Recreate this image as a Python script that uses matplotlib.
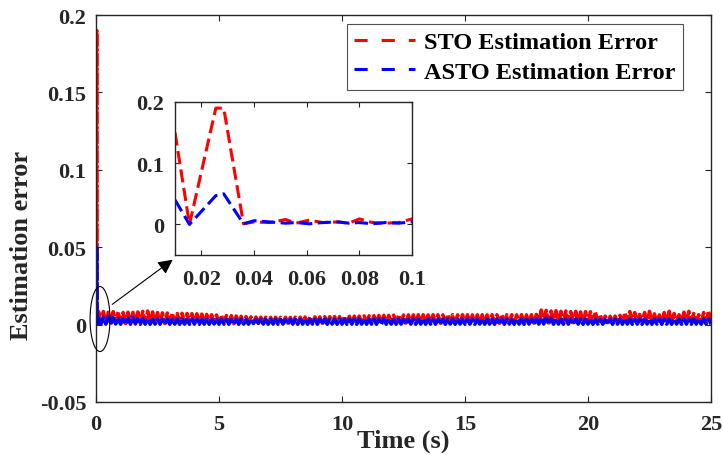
import numpy as np
import matplotlib.pyplot as plt
from matplotlib.patches import Ellipse
from matplotlib.lines import Line2D

plt.rcParams['font.family'] = ['Liberation Serif', 'DejaVu Serif']
plt.rcParams['font.weight'] = 'bold'
gris = '#262626'

# primeros 0.1 s (transitorio, lo que se ve en el zoom)
t_ini = [0.01, 0.0155, 0.0255, 0.0285, 0.036, 0.04, 0.046, 0.052, 0.056,
         0.061, 0.066, 0.072, 0.076, 0.08, 0.085, 0.09, 0.095]
sto_ini = [0.15, 0.0, 0.19, 0.19, 0.001, 0.004, 0.003, 0.008, 0.002,
           0.007, 0.003, 0.004, 0.002, 0.009, 0.003, 0.002, 0.003]
asto_ini = [0.04, 0.0, 0.047, 0.05, 0.001, 0.006, 0.004, 0.002, 0.003,
            0.001, 0.003, 0.004, 0.002, 0.003, 0.001, 0.003, 0.002]

# resto de la corrida, cada 0.1 s (una fila = 1 s)
t_run = np.round(np.arange(0.1, 25.01, 0.1), 1)
sto_run = [
    0.009, 0.0008, 0.0085, 0.0006, 0.008, 0.0009, 0.0084, 0.0007, 0.0082, 0.0008,
    0.0078, 0.0006, 0.008, 0.0009, 0.0079, 0.0007, 0.0082, 0.0008, 0.0086, 0.0006,
    0.0088, 0.0008, 0.0082, 0.0007, 0.0078, 0.0009, 0.0076, 0.0006, 0.0075, 0.0008,
    0.0074, 0.0007, 0.0072, 0.0008, 0.0073, 0.0006, 0.0072, 0.0009, 0.0071, 0.0007,
    0.007, 0.0008, 0.0068, 0.0006, 0.0066, 0.0009, 0.0064, 0.0007, 0.0062, 0.0008,
    0.006, 0.0007, 0.0059, 0.0008, 0.0058, 0.0006, 0.0056, 0.0009, 0.0054, 0.0007,
    0.0052, 0.0008, 0.005, 0.0009, 0.0049, 0.0008, 0.0048, 0.001, 0.0048, 0.0008,
    0.0047, 0.0009, 0.0048, 0.0008, 0.0047, 0.001, 0.0048, 0.0009, 0.0047, 0.0008,
    0.0048, 0.0009, 0.0048, 0.0008, 0.0049, 0.001, 0.0049, 0.0008, 0.005, 0.0009,
    0.005, 0.0008, 0.0051, 0.001, 0.0051, 0.0009, 0.0052, 0.0008, 0.0052, 0.0009,
    0.0053, 0.0008, 0.0054, 0.0009, 0.0055, 0.0008, 0.0055, 0.001, 0.0056, 0.0008,
    0.0057, 0.0009, 0.0058, 0.0008, 0.0059, 0.001, 0.006, 0.0009, 0.006, 0.0008,
    0.0061, 0.0009, 0.0062, 0.0008, 0.0062, 0.001, 0.0063, 0.0009, 0.0063, 0.0008,
    0.0064, 0.0009, 0.0064, 0.0008, 0.0063, 0.001, 0.0064, 0.0009, 0.0064, 0.0008,
    0.0063, 0.0009, 0.0064, 0.0008, 0.0064, 0.001, 0.0063, 0.0009, 0.0064, 0.0008,
    0.0064, 0.0009, 0.0063, 0.0008, 0.0064, 0.001, 0.0064, 0.0009, 0.0063, 0.0008,
    0.0064, 0.0009, 0.0064, 0.0008, 0.0063, 0.001, 0.0064, 0.0009, 0.0064, 0.0008,
    0.0063, 0.0009, 0.0064, 0.0008, 0.0063, 0.001, 0.0064, 0.0009, 0.0066, 0.0008,
    0.0094, 0.0012, 0.0092, 0.001, 0.0088, 0.0012, 0.009, 0.0011, 0.0086, 0.0012,
    0.0088, 0.001, 0.0084, 0.0012, 0.0086, 0.0011, 0.0082, 0.0012, 0.0084, 0.001,
    0.0083, 0.0012, 0.0082, 0.0011, 0.0062, 0.001, 0.0055, 0.0012, 0.0054, 0.0011,
    0.0055, 0.001, 0.006, 0.0012, 0.0075, 0.0011, 0.0085, 0.0012, 0.0078, 0.001,
    0.0066, 0.0012, 0.0078, 0.0011, 0.0086, 0.0012, 0.007, 0.001, 0.0063, 0.0012,
    0.0078, 0.0011, 0.0086, 0.0012, 0.0072, 0.001, 0.0064, 0.0012, 0.008, 0.0011,
    0.0086, 0.0012, 0.0072, 0.001, 0.0064, 0.0012, 0.0078, 0.0011, 0.0088, 0.0012]
asto_run = [
    0.0042, 0.0002, 0.0048, 0.0003, 0.005, 0.0002, 0.0045, 0.0004, 0.004, 0.0002,
    0.0038, 0.0003, 0.0042, 0.0002, 0.0046, 0.0004, 0.004, 0.0002, 0.0038, 0.0003,
    0.0036, 0.0002, 0.0035, 0.0003, 0.0037, 0.0002, 0.0036, 0.0004, 0.0035, 0.0002,
    0.0035, 0.0003, 0.0036, 0.0002, 0.0035, 0.0003, 0.0034, 0.0002, 0.0036, 0.0003,
    0.0035, 0.0002, 0.0034, 0.0003, 0.0036, 0.0002, 0.0035, 0.0004, 0.0034, 0.0002,
    0.0034, 0.0003, 0.0035, 0.0002, 0.0033, 0.0003, 0.0034, 0.0002, 0.0035, 0.0003,
    0.0034, 0.0002, 0.0033, 0.0008, 0.0032, 0.0009, 0.0034, 0.0003, 0.0035, 0.0002,
    0.0034, 0.0003, 0.0035, 0.0002, 0.0034, 0.0003, 0.0033, 0.0002, 0.0034, 0.0003,
    0.0035, 0.0002, 0.0034, 0.0003, 0.0036, 0.0002, 0.0035, 0.0003, 0.0034, 0.0002,
    0.0035, 0.0003, 0.0036, 0.0002, 0.0034, 0.0003, 0.0035, 0.0002, 0.0036, 0.0003,
    0.0035, 0.0002, 0.0036, 0.0003, 0.0035, 0.0002, 0.0037, 0.0003, 0.0036, 0.0002,
    0.0036, 0.0003, 0.0035, 0.0002, 0.0036, 0.0003, 0.0037, 0.0002, 0.0036, 0.0003,
    0.0035, 0.0002, 0.0036, 0.0003, 0.0034, 0.0002, 0.0035, 0.0003, 0.0036, 0.0002,
    0.0036, 0.0003, 0.0035, 0.0002, 0.0036, 0.0003, 0.0034, 0.0002, 0.0035, 0.0003,
    0.0036, 0.0002, 0.0035, 0.0003, 0.0034, 0.0002, 0.0036, 0.0003, 0.0035, 0.0002,
    0.0035, 0.0003, 0.0036, 0.0002, 0.0035, 0.0003, 0.0034, 0.0002, 0.0036, 0.0003,
    0.0036, 0.0002, 0.0035, 0.0003, 0.0036, 0.0002, 0.0035, 0.0003, 0.0034, 0.0002,
    0.0035, 0.0003, 0.0036, 0.0002, 0.0034, 0.0003, 0.0035, 0.0002, 0.0036, 0.0003,
    0.0045, 0.0004, 0.0043, 0.0003, 0.004, 0.0002, 0.0037, 0.0003, 0.0036, 0.0002,
    0.0036, 0.0003, 0.0035, 0.0002, 0.0036, 0.0003, 0.0035, 0.0002, 0.0036, 0.0003,
    0.0035, 0.0002, 0.0034, 0.0003, 0.0033, 0.0002, 0.0032, 0.0003, 0.0034, 0.0002,
    0.0035, 0.0003, 0.0036, 0.0002, 0.0037, 0.0003, 0.0036, 0.0002, 0.0037, 0.0003,
    0.0036, 0.0002, 0.0037, 0.0003, 0.0036, 0.0002, 0.0037, 0.0003, 0.0036, 0.0002,
    0.0037, 0.0003, 0.0036, 0.0002, 0.0037, 0.0003, 0.0036, 0.0002, 0.0037, 0.0003,
    0.0036, 0.0002, 0.0037, 0.0003, 0.0036, 0.0002, 0.0037, 0.0003, 0.0036, 0.0002]

t = np.concatenate([t_ini, t_run])
sto = np.concatenate([sto_ini, sto_run])
asto = np.concatenate([asto_ini, asto_run])

xticks = [0, 5, 10, 15, 20, 25]
yticks = [-0.05, 0, 0.05, 0.1, 0.15, 0.2]
yticklabels = ['-0.05', '0', '0.05', '0.1', '0.15', '0.2']
in_xticks = [0.02, 0.04, 0.06, 0.08, 0.1]
in_xticklabels = ['0.02', '0.04', '0.06', '0.08', '0.1']
in_yticks = [0, 0.1, 0.2]
in_yticklabels = ['0', '0.1', '0.2']
etiquetas = ['STO Estimation Error', 'ASTO Estimation Error']

fig = plt.figure(figsize=(7.23, 4.56), dpi=100)

###################################
# grafico principal (tan denso que se ve casi continuo)
ax = fig.add_axes([96/723, 53/456, 615/723, 387/456])
ax.plot(t, sto, color='r', ls='--', lw=2.5, dashes=(5, 0.6))
ax.plot(t, asto, color='b', ls='--', lw=2.5, dashes=(5, 0.6))
ax.set_xlim(0, 25)
ax.set_ylim(-0.05, 0.2)
ax.set_xticks(xticks)
ax.set_xticklabels([str(v) for v in xticks])
ax.set_yticks(yticks)
ax.set_yticklabels(yticklabels)
ax.tick_params(direction='in', length=4.5, width=0.8, top=True, right=True,
               labelsize=16, colors=gris, pad=7)
ax.tick_params(axis='x', pad=9)
for s in ax.spines.values():
    s.set_color(gris)
    s.set_linewidth(1.0)

ax.text(0.5, (403-441)/387, 'Time (s)', transform=ax.transAxes, ha='center',
        va='center', fontsize=19, color=gris)
ax.text((22-96)/615, (403-245)/387, 'Estimation error', transform=ax.transAxes,
        rotation=90, ha='center', va='center', fontsize=19, color=gris)

# elipse y flecha hacia el zoom
ax.add_patch(Ellipse((0.163, 0.0036), 0.81, 0.042, fill=False, ec='k', lw=0.8,
                     zorder=5, clip_on=False))
ax.annotate('', xy=(3.21, 0.043), xytext=(0.569, 0.012),
            arrowprops=dict(arrowstyle='-|>', color='k', lw=0.8, mutation_scale=22))

handles = [Line2D([], [], color='r', lw=2.2, dashes=(4.3, 4.6)),
           Line2D([], [], color='b', lw=2.2, dashes=(4.3, 4.6))]
leg = ax.legend(handles, etiquetas, loc='upper right',
                bbox_to_anchor=(683/723, 1-25/456), bbox_transform=fig.transFigure,
                borderaxespad=0, fancybox=False, fontsize=17.5, handlelength=2.5,
                handletextpad=0.4, labelspacing=0.3, borderpad=0.3)
leg.get_frame().set_edgecolor(gris)
leg.get_frame().set_linewidth(0.8)

###################################
# zoom de los primeros 0.1 s
axin = fig.add_axes([175/723, 200/456, 237/723, 153/456])
axin.plot(t, sto, color='r', ls='--', lw=2.2, dashes=(4.3, 1.8))
axin.plot(t, asto, color='b', ls='--', lw=2.2, dashes=(4.3, 1.8))
axin.set_xlim(0.01, 0.1)
axin.set_ylim(-0.05, 0.2)
axin.set_xticks(in_xticks)
axin.set_xticklabels(in_xticklabels)
axin.set_yticks(in_yticks)
axin.set_yticklabels(in_yticklabels)
axin.tick_params(direction='in', length=3.5, width=0.8, top=True, right=True,
                 labelsize=16, colors=gris, pad=8)
axin.tick_params(axis='x', pad=10)
for s in axin.spines.values():
    s.set_color(gris)
    s.set_linewidth(1.0)

fig.savefig('out.png', dpi=100)
